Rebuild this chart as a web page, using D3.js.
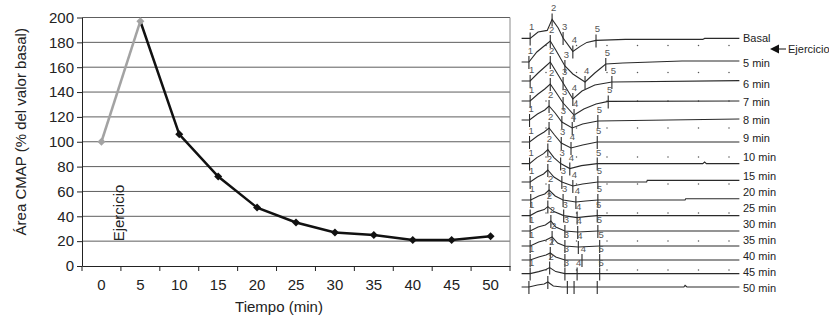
<!DOCTYPE html>
<html>
<head>
<meta charset="utf-8">
<script src="https://cdn.jsdelivr.net/npm/d3@7"></script>
<style>
  body { margin: 0; background: #fff; }
  svg { display: block; font-family: "Liberation Sans", Arial, sans-serif; }
</style>
</head>
<body>
<div id="chart"></div>
<script>
// Left chart: CMAP area vs time
const minutes = [0, 5, 10, 15, 20, 25, 30, 35, 40, 45, 50];
const cmapArea = [100, 197, 106, 72, 47, 35, 27, 25, 21, 21, 24];
const yTicks = [0, 20, 40, 60, 80, 100, 120, 140, 160, 180, 200];

// Right panel: recorded traces ([ms, mV] points), display offsets in mV
const traceLabels = ['Basal', '5 min', '6 min', '7 min', '8 min', '9 min', '10 min', '15 min',
  '20 min', '25 min', '30 min', '35 min', '40 min', '45 min', '50 min'];
const traceOffsets = [9.6, 15.5, 20.25, 25.25, 30, 35.5, 40.9, 45.5, 50, 53.9, 57.75, 61.5, 65, 68.4, 71.75];
const labelOffsets = [9.5, 15.75, 21, 25.5, 30, 34.5, 39.25, 44, 48, 52, 56, 60, 64, 68, 72];
const traces = [
  [[1, 0], [2.4, 0], [3.7, 1.6], [5.2, 2], [6.0, 4.75], [7.0, 2.6], [7.8, 0.1], [9.4, -3.25], [10.6, -2], [11.7, -1], [13.2, -0.5], [18, -0.25], [30.7, -0.25], [31, 0], [36.7, 0]],
  [[1, 0], [2.2, 0], [3.5, 2.5], [4.7, 4], [5.7, 5.25], [6.6, 3], [8.1, -1], [9.4, -3], [11.4, -5], [13.0, -2.75], [14.8, -0.5], [17.6, -0.25], [27.3, 0.25], [36.7, 0.25]],
  [[1, 0], [2.4, 0], [3.7, 2], [4.8, 3.5], [5.7, 4.75], [6.6, 2.5], [7.8, -0.5], [9.4, -4.5], [10.9, -2.5], [13.0, -1], [15.8, -0.25], [36.7, 0.1]],
  [[1, 0], [2.4, 0], [3.7, 1.75], [4.8, 3], [5.7, 4.25], [6.6, 2.25], [7.8, -0.5], [9.6, -3.5], [11.2, -2], [13.2, -0.75], [15.2, -0.1], [36.7, 0]],
  [[1, 0], [2.3, 0], [3.6, 1.5], [4.8, 2.5], [5.5, 3.5], [6.5, 1.75], [7.6, -0.5], [9.3, -2], [11.0, -1], [13.5, -0.25], [36.7, 0.25]],
  [[1, 0], [2.3, 0], [3.6, 1.5], [4.7, 2.5], [5.5, 3.5], [6.4, 1.75], [7.5, -0.25], [9.1, -1.5], [11.0, -0.75], [13.4, 0], [36.7, 0]],
  [[1, 0], [2.3, 0], [3.5, 1.5], [4.6, 2.5], [5.3, 3.5], [6.3, 1.5], [7.4, 0], [8.9, -1.25], [10.8, -0.5], [13.4, 0], [30.7, 0], [31.0, 0.4], [31.3, 0], [36.7, 0]],
  [[1, 0], [2.4, 0], [3.6, 1.25], [4.6, 2], [5.3, 3], [6.3, 1.25], [7.6, 0], [9.4, -1], [11, -0.5], [13.5, 0], [21.5, 0], [21.6, 0.4], [36.7, 0.4]],
  [[1, 0], [2.5, 0], [3.8, 1], [4.8, 1.5], [5.5, 2.5], [6.5, 1], [7.8, 0], [9.9, -0.5], [11.5, -0.25], [13.5, 0], [27.8, 0], [27.9, 0.3], [36.7, 0.3]],
  [[1, 0], [2.4, 0], [3.6, 1], [4.7, 1.5], [5.3, 2.25], [6.3, 1], [7.9, 0], [10.1, -0.5], [11.5, -0.25], [13.4, 0], [36.7, 0]],
  [[1, 0], [2.4, 0], [3.7, 1], [4.9, 1.5], [5.8, 2.5], [6.6, 1], [8.1, 0], [10.2, -0.25], [13.5, 0], [36.7, 0]],
  [[1, 0], [2.4, 0], [3.8, 1], [5.0, 1.5], [6.0, 2.25], [6.9, 0.75], [8.1, 0], [10.3, -0.25], [13.8, 0], [36.7, 0]],
  [[1, 0], [2.4, 0], [3.8, 0.75], [5.0, 1.25], [5.7, 1.75], [6.6, 0.75], [8.1, 0], [10.9, 0], [13.8, 0], [36.7, 0]],
  [[1, 0], [2.4, 0], [3.8, 0.5], [5.0, 1], [5.6, 1.5], [6.6, 0.5], [8.1, 0], [10.1, 0], [13.8, 0], [36.7, 0]],
  [[1, 0], [2.2, 0], [3.6, 0.5], [4.7, 0.75], [5.3, 1.25], [6.2, 0.25], [7.6, 0], [27.6, 0], [27.8, 0.4], [28.1, 0], [36.7, 0]]
];
const markerTimes = [
  [2.4, 6.0, 7.8, 9.4, 13.2], [2.2, 5.7, 8.1, 11.4, 14.8], [2.4, 5.7, 7.8, 9.4, 15.8],
  [2.4, 5.7, 7.8, 9.6, 15.2], [2.3, 5.5, 7.6, 9.3, 13.5], [2.3, 5.5, 7.5, 9.1, 13.4],
  [2.3, 5.3, 7.4, 8.9, 13.4], [2.4, 5.3, 7.6, 9.4, 13.5], [2.5, 5.5, 7.8, 9.9, 13.5],
  [2.4, 5.3, 7.9, 10.1, 13.4], [2.4, 5.8, 8.1, 10.2, 13.5], [2.4, 6.0, 8.1, 10.3, 13.8],
  [2.4, 5.7, 8.1, 10.9, 13.8], [2.4, 5.6, 8.1, 10.1, 13.8], [2.2, 5.3, 8.5, 9.6, 13.4]
];
const markerNames = ['1', '2', '3', '4', '5'];
const gridTimes = [5, 10, 15, 20, 25, 30, 35];
const gridLevels = [11.4, 18.1, 25.25, 32, 39.25, 46, 53.25, 60.25, 67.5];

const width = 829, height = 320;
const margin = { top: 17.5, left: 82, right: 510, bottom: 266 };

const svg = d3.select('#chart').append('svg')
  .attr('width', width)
  .attr('height', height);

const xBand = d3.scaleBand().domain(minutes).range([margin.left, margin.right]);
const xMid = d => xBand(d) + xBand.bandwidth() / 2;
const y = d3.scaleLinear().domain([0, 200]).range([margin.bottom, margin.top]);

// Grid
svg.append('g')
  .selectAll('line')
  .data(yTicks.filter(d => d > 0))
  .enter().append('line')
  .attr('x1', margin.left).attr('x2', margin.right)
  .attr('y1', d => y(d)).attr('y2', d => y(d))
  .attr('stroke', '#5e5e5e')
  .attr('stroke-width', 1);

svg.append('line')
  .attr('x1', margin.right).attr('x2', margin.right)
  .attr('y1', y(200)).attr('y2', y(0))
  .attr('stroke', '#8a8a8a');

// Axes
const yAxis = svg.append('g')
  .attr('transform', `translate(${margin.left},0)`)
  .call(d3.axisLeft(y).tickValues(yTicks).tickSize(5).tickSizeOuter(0).tickPadding(3));
yAxis.selectAll('text').style('font-size', '15px').attr('fill', '#222');

const xAxis = svg.append('g')
  .attr('transform', `translate(0,${margin.bottom})`)
  .call(d3.axisBottom(xBand).tickSize(0).tickSizeOuter(0).tickPadding(13));
xAxis.selectAll('text').style('font-size', '15px').attr('fill', '#222');

svg.append('g')
  .selectAll('line')
  .data(minutes.map(d => xBand(d)).concat([margin.right]))
  .enter().append('line')
  .attr('x1', d => d).attr('x2', d => d)
  .attr('y1', margin.bottom).attr('y2', margin.bottom + 5)
  .attr('stroke', '#222');

svg.selectAll('.domain').attr('stroke', '#222');
svg.selectAll('.tick line').attr('stroke', '#222');

// Axis titles
svg.append('text')
  .attr('transform', `translate(26,${(margin.top + margin.bottom) / 2 - 10}) rotate(-90)`)
  .attr('text-anchor', 'middle')
  .style('font-size', '15px')
  .attr('fill', '#222')
  .text('Área CMAP (% del valor basal)');

svg.append('text')
  .attr('x', 279)
  .attr('y', 312)
  .attr('text-anchor', 'middle')
  .style('font-size', '15px')
  .attr('fill', '#222')
  .text('Tiempo (min)');

svg.append('text')
  .attr('transform', `translate(${xMid(0) + 23},213) rotate(-90)`)
  .attr('text-anchor', 'middle')
  .style('font-size', '15px')
  .attr('fill', '#222')
  .text('Ejercicio');

// Line
const pts = minutes.map((m, i) => ({ m, v: cmapArea[i] }));
const line = d3.line().x(d => xMid(d.m)).y(d => y(d.v));

svg.append('path')
  .datum(pts.slice(0, 2))
  .attr('fill', 'none')
  .attr('stroke', '#a3a3a3')
  .attr('stroke-width', 2.5)
  .attr('d', line);

svg.append('path')
  .datum(pts.slice(1))
  .attr('fill', 'none')
  .attr('stroke', '#111')
  .attr('stroke-width', 2.5)
  .attr('d', line);

// Points
svg.selectAll('.point')
  .data(pts)
  .enter().append('path')
  .attr('class', 'point')
  .attr('d', d3.symbol(d3.symbolSquare, 32))
  .attr('transform', d => `translate(${xMid(d.m)},${y(d.v)}) rotate(45)`)
  .attr('fill', (d, i) => i < 2 ? '#a3a3a3' : '#111');

// Traces panel
const tx = d3.scaleLinear().domain([0, 37]).range([515.5, 741.2]);
const ty = d3.scaleLinear().domain([0, 80]).range([0, 320]);

const panel = svg.append('g');

panel.selectAll('.dotrow')
  .data(gridLevels)
  .enter().append('g')
  .selectAll('circle')
  .data(l => gridTimes.map(t => [t, l]))
  .enter().append('circle')
  .attr('cx', d => tx(d[0]))
  .attr('cy', d => ty(d[1]))
  .attr('r', 0.75)
  .attr('fill', '#555');

const valueAt = (tr, t) => {
  const i = d3.bisector(d => d[0]).left(tr, t);
  if (i <= 0) return tr[0][1];
  if (i >= tr.length) return tr[tr.length - 1][1];
  const a = tr[i - 1], b = tr[i];
  return a[1] + (b[1] - a[1]) * (t - a[0]) / (b[0] - a[0]);
};

traces.forEach((tr, r) => {
  const off = traceOffsets[r];
  const g = panel.append('g');
  g.append('path')
    .datum(tr)
    .attr('fill', 'none')
    .attr('stroke', '#2a2a2a')
    .attr('stroke-width', 1.1)
    .attr('d', d3.line().x(d => tx(d[0])).y(d => ty(off - d[1])));

  const marks = markerTimes[r].map((t, k) => ({ t, v: valueAt(tr, t), name: markerNames[k] }));
  g.selectAll('line')
    .data(marks)
    .enter().append('line')
    .attr('x1', d => tx(d.t)).attr('x2', d => tx(d.t))
    .attr('y1', d => ty(off - d.v) - 6).attr('y2', d => ty(off - d.v) + 7)
    .attr('stroke', '#2a2a2a')
    .attr('stroke-width', 1.1);

  if (r < traces.length - 1) {
    g.selectAll('text')
      .data(marks)
      .enter().append('text')
      .attr('x', d => tx(d.t) + 1.5)
      .attr('y', d => ty(off - d.v) - 8)
      .attr('text-anchor', 'middle')
      .style('font-size', '9.5px')
      .attr('fill', '#555')
      .text(d => d.name);
  }
});

panel.selectAll('.tlabel')
  .data(traceLabels)
  .enter().append('text')
  .attr('x', 743)
  .attr('y', (d, i) => ty(labelOffsets[i]) + 4)
  .style('font-size', '11px')
  .attr('fill', '#222')
  .text(d => d);

// Exercise arrow
panel.append('path')
  .attr('d', 'M770,49L779,44.5L779,53.5Z')
  .attr('fill', '#111');
panel.append('line')
  .attr('x1', 779).attr('x2', 786)
  .attr('y1', 49).attr('y2', 49)
  .attr('stroke', '#111');
panel.append('text')
  .attr('x', 788)
  .attr('y', 53)
  .style('font-size', '11px')
  .attr('fill', '#222')
  .text('Ejercicio');
</script>
</body>
</html>
